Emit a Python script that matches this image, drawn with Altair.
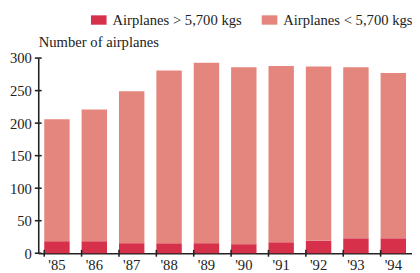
import altair as alt
import pandas as pd

years = ["'85", "'86", "'87", "'88", "'89", "'90", "'91", "'92", "'93", "'94"]
heavy = [18.5, 18.5, 15.5, 15.5, 15.5, 14, 17, 19.5, 23, 23]
total = [206, 221, 249, 281, 293, 286, 288, 287, 286, 277]
series = ["Airplanes > 5,700 kgs", "Airplanes < 5,700 kgs"]
colors = ["#d6304b", "#e4867e"]
y_ticks = [0, 50, 100, 150, 200, 250, 300]

rows = []
for y, h, t in zip(years, heavy, total):
    rows.append({"year": y, "series": series[0], "value": h, "ord": 0})
    rows.append({"year": y, "series": series[1], "value": t - h, "ord": 1})
df = pd.DataFrame(rows)

FONT = "Liberation Serif"
INK = "#222"

xscale = alt.Scale(domain=years, paddingInner=0.32, paddingOuter=0.16)
yscale = alt.Scale(domain=[0, 300])

bars = alt.Chart(df).mark_bar().encode(
    x=alt.X("year:N", sort=years, title=None, scale=xscale,
            axis=alt.Axis(labelAngle=0, ticks=False,
                          domainColor=INK, domainWidth=1.6,
                          labelFontSize=15, labelFont=FONT, labelColor=INK,
                          labelPadding=5)),
    y=alt.Y("value:Q", stack="zero", title="Number of airplanes", scale=yscale,
            axis=alt.Axis(values=y_ticks, grid=False, ticks=False,
                          domainColor=INK, domainWidth=1.6,
                          labelFontSize=15, labelFont=FONT, labelColor=INK,
                          labelPadding=7,
                          titleAngle=0, titleAlign="left", titleX=0, titleY=-9,
                          titleBaseline="bottom", titleFont=FONT, titleFontSize=15,
                          titleFontWeight="normal", titleColor=INK)),
    color=alt.Color("series:N", sort=series,
                    scale=alt.Scale(domain=series, range=colors),
                    legend=alt.Legend(title=None, orient="none", direction="horizontal",
                                      legendX=54, legendY=-47,
                                      symbolType="M-1,-0.6H1V0.6H-1Z", symbolSize=256,
                                      symbolStrokeWidth=0, symbolOpacity=1,
                                      labelFont=FONT, labelFontSize=15, labelColor=INK,
                                      labelOffset=6, columnPadding=20)),
    order=alt.Order("ord:Q"),
)

ytick_df = pd.DataFrame({"v": y_ticks})
yticks = alt.Chart(ytick_df).mark_rule(color=INK, strokeWidth=1.6).encode(
    y=alt.Y("v:Q", scale=yscale, axis=None),
    x=alt.value(-3.5), x2=alt.value(3.5),
)

xtick_df = pd.DataFrame({"year": years})
xticks = alt.Chart(xtick_df).mark_rule(color=INK, strokeWidth=1.6).encode(
    x=alt.X("year:N", sort=years, scale=xscale, bandPosition=0, axis=None),
    y=alt.value(196.5), y2=alt.value(203.5),
)

chart = alt.layer(bars, yticks, xticks).resolve_axis(
    x="independent", y="independent"
).properties(
    width=383, height=200,
    autosize=alt.AutoSizeParams(type="none"),
    padding={"left": 31, "top": 48, "right": 0, "bottom": 20},
).configure_view(stroke=None)

chart.save("out.html", embed_options={"renderer": "svg", "actions": False})
